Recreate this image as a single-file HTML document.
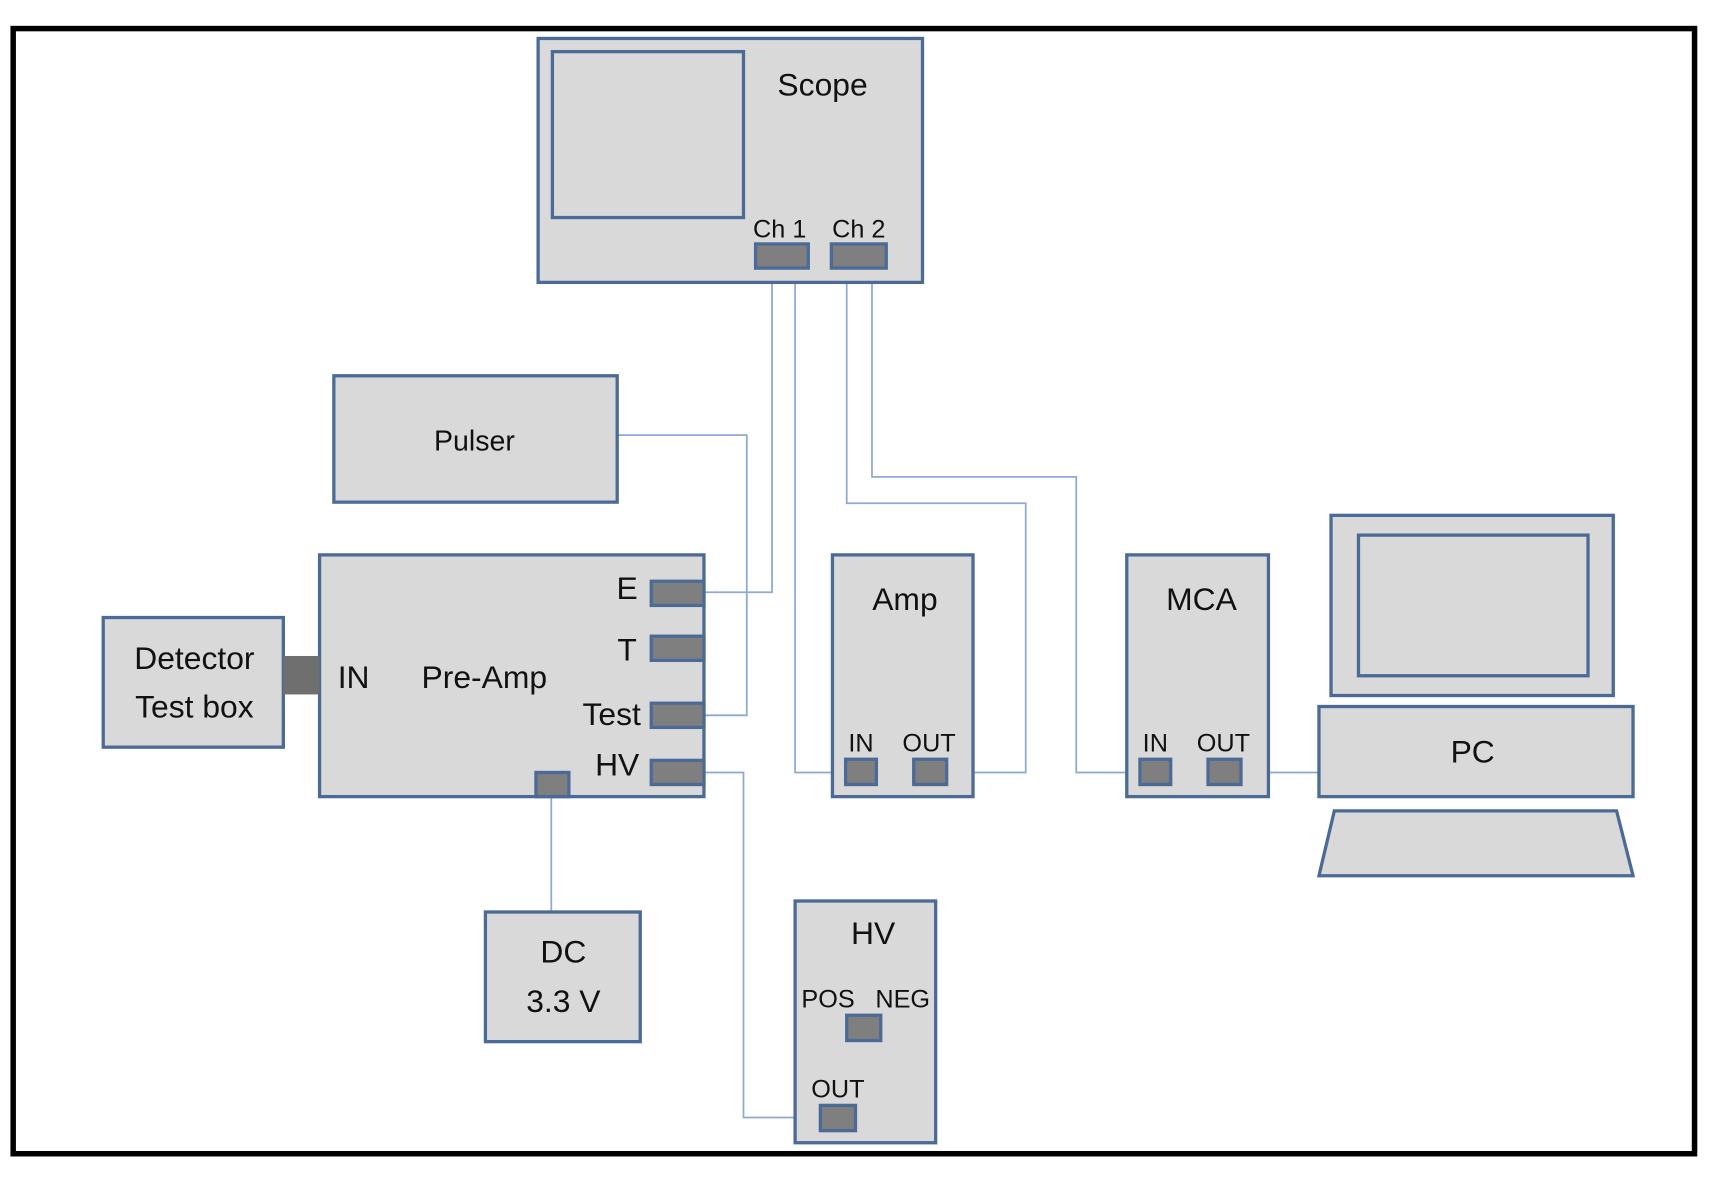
<!DOCTYPE html>
<html><head><style>
html,body{margin:0;padding:0;background:#fff;}
svg{display:block;}
text{font-family:"Liberation Sans",sans-serif;fill:#111;text-anchor:middle;}
</style></head><body>
<svg width="1722" height="1179" viewBox="0 0 1568 1073" preserveAspectRatio="none">
<rect x="0" y="0" width="1568" height="1073" fill="#fff"/>
<rect x="12" y="26" width="1531" height="1024" fill="#fff" stroke="#000" stroke-width="5"/>
<g fill="none" stroke="#8eaad0" stroke-width="1.6">
<polyline points="703,257 703,539 641,539"/>
<polyline points="724,257 724,703 770,703"/>
<polyline points="771,257 771,458 934,458 934,703 862,703"/>
<polyline points="794,257 794,434 980,434 980,703 1038,703"/>
<polyline points="562,396 680,396 680,651 641,651"/>
<polyline points="641,703 677,703 677,1017 747,1017"/>
<polyline points="502,725 502,830"/>
<polyline points="1130,703 1201,703"/>
</g>
<g fill="#d9d9d9" stroke="#4b6b96" stroke-width="3">
<rect x="490" y="35" width="350" height="222"/>
<rect x="503" y="47" width="174" height="151"/>
<rect x="304" y="342" width="258" height="115"/>
<rect x="291" y="505" width="350" height="220"/>
<rect x="94" y="562" width="164" height="118"/>
<rect x="758" y="505" width="128" height="220"/>
<rect x="1026" y="505" width="129" height="220"/>
<rect x="1212" y="469" width="257" height="164"/>
<rect x="1237" y="487" width="209" height="128"/>
<rect x="1201" y="643" width="286" height="82"/>
<polygon points="1215,738 1472,738 1487,797 1201,797"/>
<rect x="442" y="830" width="141" height="118"/>
<rect x="724" y="820" width="128" height="220"/>
</g>
<g fill="#7f7f7f" stroke="#4b6b96" stroke-width="3">
<rect x="688" y="222" width="48" height="22"/>
<rect x="757" y="222" width="50" height="22"/>
<rect x="593" y="529" width="48" height="22"/>
<rect x="593" y="579" width="48" height="22"/>
<rect x="593" y="640" width="48" height="22"/>
<rect x="593" y="692" width="48" height="22"/>
<rect x="488" y="703" width="30" height="22"/>
<rect x="770" y="691" width="28" height="23"/>
<rect x="832" y="691" width="30" height="23"/>
<rect x="1038" y="691" width="28" height="23"/>
<rect x="1100" y="691" width="30" height="23"/>
<rect x="771" y="924" width="31" height="23"/>
<rect x="747" y="1006" width="32" height="23"/>
</g>
<rect x="258" y="597" width="33" height="35" fill="#6f6f6f"/>
<g font-size="29">
<text x="749" y="87">Scope</text>
<text x="432" y="410" font-size="26">Pulser</text>
<text x="571" y="545">E</text>
<text x="571" y="601">T</text>
<text x="557" y="660">Test</text>
<text x="562" y="706">HV</text>
<text x="322" y="626">IN</text>
<text x="441" y="626">Pre-Amp</text>
<text x="177" y="609">Detector</text>
<text x="177" y="653">Test box</text>
<text x="824" y="555">Amp</text>
<text x="1094" y="555">MCA</text>
<text x="1341" y="694">PC</text>
<text x="513" y="876">DC</text>
<text x="513" y="921">3.3 V</text>
<text x="795" y="859">HV</text>
</g>
<g font-size="23">
<text x="710" y="216">Ch 1</text>
<text x="782" y="216">Ch 2</text>
<text x="784" y="684">IN</text>
<text x="846" y="684">OUT</text>
<text x="1052" y="684">IN</text>
<text x="1114" y="684">OUT</text>
<text x="754" y="917">POS</text>
<text x="822" y="917">NEG</text>
<text x="763" y="999">OUT</text>
</g>
</svg>
</body></html>
